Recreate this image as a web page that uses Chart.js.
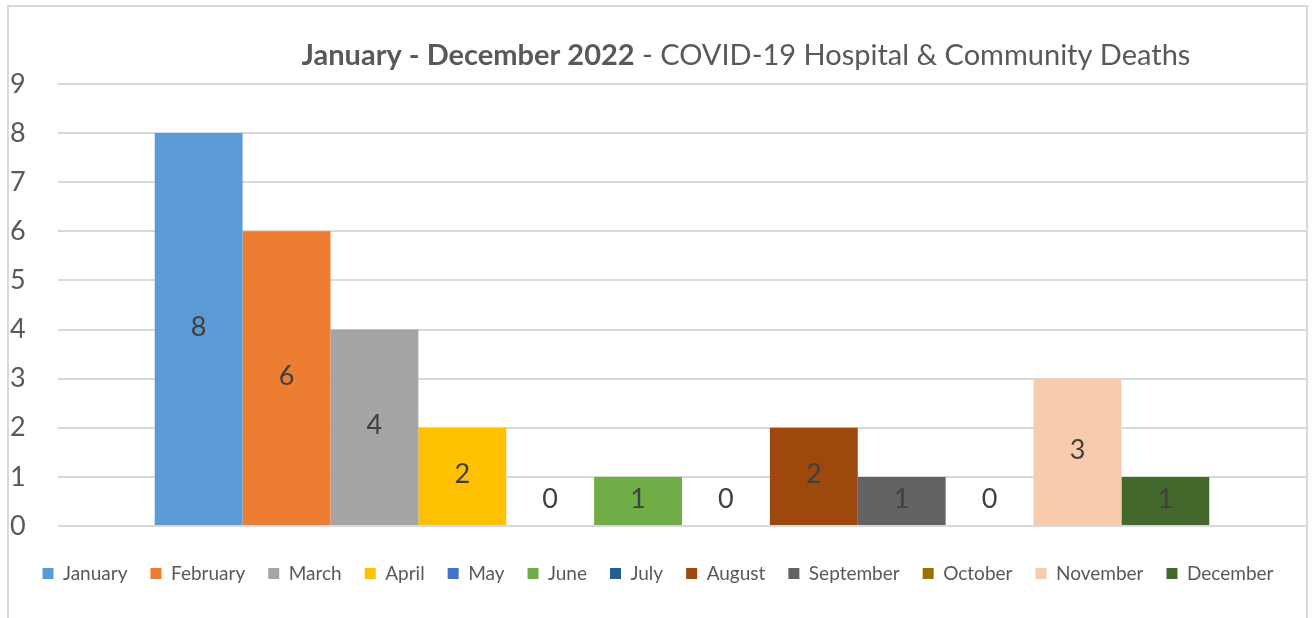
<!DOCTYPE html>
<html>
<head>
<meta charset="utf-8">
<script src="https://cdn.jsdelivr.net/npm/chart.js@4"></script>
<style>
  html, body { margin: 0; padding: 0; background: #fff; }
  #wrap { position: relative; width: 1314px; height: 618px; overflow: hidden; }
  #frame { position: absolute; left: 7px; top: 5px; width: 1301px; height: 700px; border: 2px solid #d9d9d9; box-sizing: border-box; }
  canvas { position: absolute; left: 0; top: 0; }
</style>
</head>
<body>
<div id="wrap">
  <div id="frame"></div>
  <canvas id="deathsChart" width="1314" height="618"></canvas>
</div>
<script>
  const months = ['January', 'February', 'March', 'April', 'May', 'June', 'July', 'August', 'September', 'October', 'November', 'December'];
  const deaths = [8, 6, 4, 2, 0, 1, 0, 2, 1, 0, 3, 1];
  const monthColors = ['#5B9BD5', '#ED7D31', '#A5A5A5', '#FFC000', '#4472C4', '#70AD47', '#255E91', '#9E480E', '#636363', '#997300', '#F8CBAD', '#43682B'];
  const yTicks = [0, 1, 2, 3, 4, 5, 6, 7, 8, 9];
  const titleBold = 'January - December 2022';
  const titleRest = ' - COVID-19 Hospital & Community Deaths';

  const FONT = 'Lato, "Open Sans", sans-serif';

  // title drawn by hand so half of it can be bold
  const titlePlugin = {
    id: 'mixedTitle',
    afterDraw(chart) {
      const c = chart.ctx;
      c.save();
      c.fillStyle = '#595959';
      c.textBaseline = 'middle';
      c.font = 'bold 29px ' + FONT;
      const w1 = c.measureText(titleBold).width;
      c.font = '29px ' + FONT;
      const w2 = c.measureText(titleRest).width;
      const x0 = 746 - (w1 + w2) / 2;
      c.font = 'bold 29px ' + FONT;
      c.textAlign = 'left';
      c.fillText(titleBold, x0, 56);
      c.font = '29px ' + FONT;
      c.fillText(titleRest, x0 + w1, 56);
      c.restore();
    }
  };

  // value labels in the middle of each bar
  const valuePlugin = {
    id: 'barValues',
    afterDatasetsDraw(chart) {
      const c = chart.ctx;
      const y = chart.scales.y;
      c.save();
      c.fillStyle = '#404040';
      c.font = '27px ' + FONT;
      c.textAlign = 'center';
      c.textBaseline = 'middle';
      chart.data.datasets.forEach((ds, i) => {
        const bar = chart.getDatasetMeta(i).data[0];
        const v = ds.data[0];
        const cy = v > 0 ? (bar.y + bar.base) / 2 : y.getPixelForValue(0.5);
        c.fillText(String(v), bar.x, cy - 2);
      });
      c.restore();
    }
  };

  const datasets = months.map((m, i) => ({
    label: m,
    data: [deaths[i]],
    backgroundColor: monthColors[i],
    borderWidth: 0,
    categoryPercentage: 0.845,
    barPercentage: 1
  }));

  new Chart(document.getElementById('deathsChart'), {
    type: 'bar',
    data: { labels: [''], datasets: datasets },
    plugins: [titlePlugin, valuePlugin],
    options: {
      responsive: false,
      animation: false,
      layout: { padding: { left: 10, right: 8, top: 84, bottom: 25 } },
      plugins: {
        title: { display: false },
        tooltip: { enabled: false },
        legend: {
          position: 'bottom',
          labels: {
            boxWidth: 11,
            boxHeight: 11,
            padding: 23,
            color: '#595959',
            font: { family: FONT, size: 19 }
          }
        }
      },
      scales: {
        x: {
          grid: { display: false },
          border: { display: false },
          ticks: { display: false },
          afterFit(scale) { scale.height = 15; }
        },
        y: {
          min: 0,
          max: 9,
          afterBuildTicks(scale) { scale.ticks = yTicks.map(v => ({ value: v })); },
          afterFit(scale) { scale.width = 48; },
          grid: { color: '#d9d9d9', lineWidth: 2, drawTicks: false },
          border: { display: false },
          ticks: {
            crossAlign: 'far',
            padding: 0,
            color: '#595959',
            font: { family: FONT, size: 27 }
          }
        }
      }
    }
  });
</script>
</body>
</html>
